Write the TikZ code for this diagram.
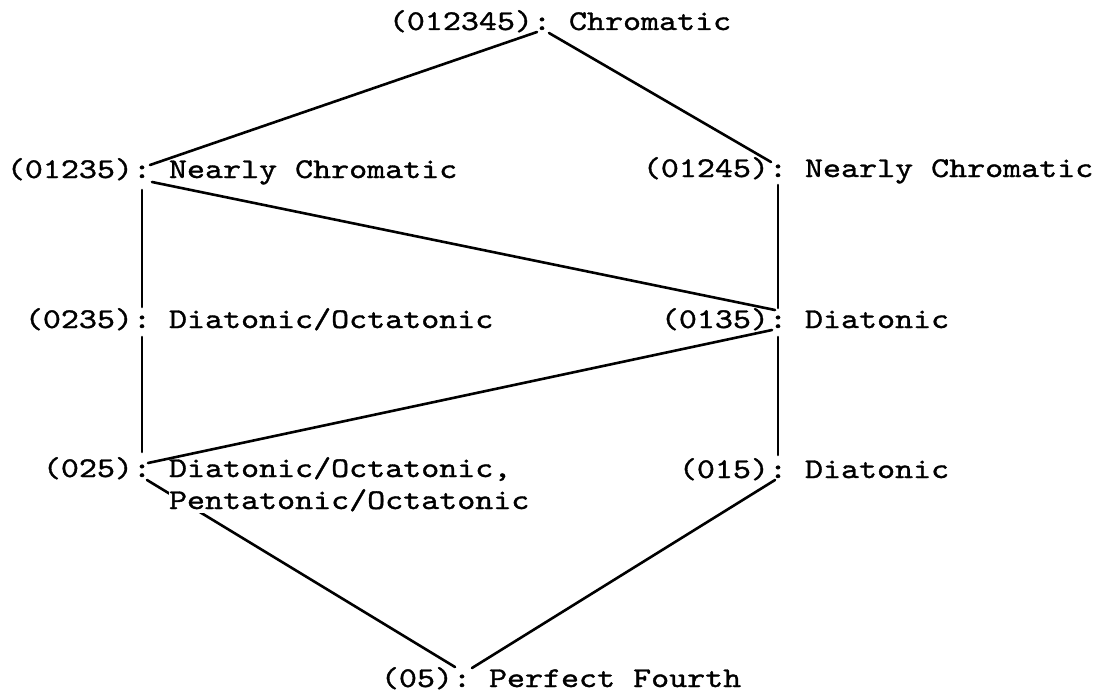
\documentclass[tikz,border=0pt]{standalone}
\usepackage{fontspec}
\newfontfamily\cour{lmmono10-regular.otf}[FakeStretch=1.2,FakeBold=1.2]
\begin{document}
\begin{tikzpicture}[x=1pt,y=-1pt,
  txt/.style={font=\cour\fontsize{28.6}{32}\selectfont, inner sep=0pt, outer sep=0pt},
  conn/.style={line width=2.6pt, line cap=round}]
\useasboundingbox (0,0) rectangle (1106,693);

% colon nodes (connection points)
\node[txt, anchor=base] (c1)  at (542,30)  {:};
\node[txt, anchor=base] (c2l) at (142,178) {:};
\node[txt, anchor=base] (c2r) at (778,177) {:};
\node[txt, anchor=base] (c3l) at (142,328) {:};
\node[txt, anchor=base] (c3r) at (778,328) {:};
\node[txt, anchor=base] (c4l) at (142,477) {:};
\node[txt, anchor=base] (c4r) at (778,478) {:};
\node[txt, anchor=base] (c5)  at (462,687) {:};

% connectors
\draw[conn] ([shift={(-5,2)}]c1.base) -- ([shift={(8,-13)}]c2l.base);
\draw[conn] ([shift={(7,3)}]c1.base) -- ([shift={(-7,-15)}]c2r.base);
\draw[conn] ([shift={(0,12)}]c2l.base) -- ([shift={(0,-21)}]c3l.base);
\draw[conn] ([shift={(10,4)}]c2l.base) -- ([shift={(-3,-18)}]c3r.base);
\draw[conn] ([shift={(0,8)}]c2r.base) -- ([shift={(0,-20)}]c3r.base);
\draw[conn] ([shift={(0,9)}]c3l.base) -- ([shift={(0,-25)}]c4l.base);
\draw[conn] ([shift={(0,9)}]c3r.base) -- ([shift={(0,-23)}]c4r.base);
\draw[conn] ([shift={(-6,2)}]c3r.base) -- ([shift={(6,-14)}]c4l.base);
\draw[conn] ([shift={(5,3)}]c4l.base) -- ([shift={(-7,-20)}]c5.base);
\draw[conn] ([shift={(-3,2)}]c4r.base) -- ([shift={(10,-19)}]c5.base);

% codes
\node[txt, anchor=base east] (k1)  at (c1.base west)  {(012345)};
\node[txt, anchor=base east] (k2l) at (c2l.base west) {(01235)};
\node[txt, anchor=base east] (k2r) at (c2r.base west) {(01245)};
\node[txt, anchor=base east] (k3l) at (c3l.base west) {(0235)};
\node[txt, anchor=base east] (k3r) at (c3r.base west) {(0135)};
\node[txt, anchor=base east] (k4l) at (c4l.base west) {(025)};
\node[txt, anchor=base east] (k4r) at (c4r.base west) {(015)};
\node[txt, anchor=base east] (k5)  at (c5.base west)  {(05)};

% descriptions
\node[txt, anchor=base west] (d1)  at ([xshift=18pt]c1.base east)  {Chromatic};
\node[txt, anchor=base west] (d2l) at ([xshift=18pt]c2l.base east) {Nearly Chromatic};
\node[txt, anchor=base west] (d2r) at ([xshift=18pt]c2r.base east) {Nearly Chromatic};
\node[txt, anchor=base west] (d3l) at ([xshift=18pt]c3l.base east) {Diatonic/Octatonic};
\node[txt, anchor=base west] (d3r) at ([xshift=18pt]c3r.base east) {Diatonic};
\node[txt, anchor=base west] (d4l) at ([xshift=18pt]c4l.base east) {Diatonic/Octatonic,};
\node[txt, anchor=base west, fill=white, text height=17pt, text depth=4pt] (d4m) at ([yshift=-32pt]d4l.base west) {Pentatonic/Octatonic};
\node[txt, anchor=base west] (d4r) at ([xshift=18pt]c4r.base east) {Diatonic};
\node[txt, anchor=base west] (d5)  at ([xshift=18pt]c5.base east)  {Perfect Fourth};
\end{tikzpicture}
\end{document}
